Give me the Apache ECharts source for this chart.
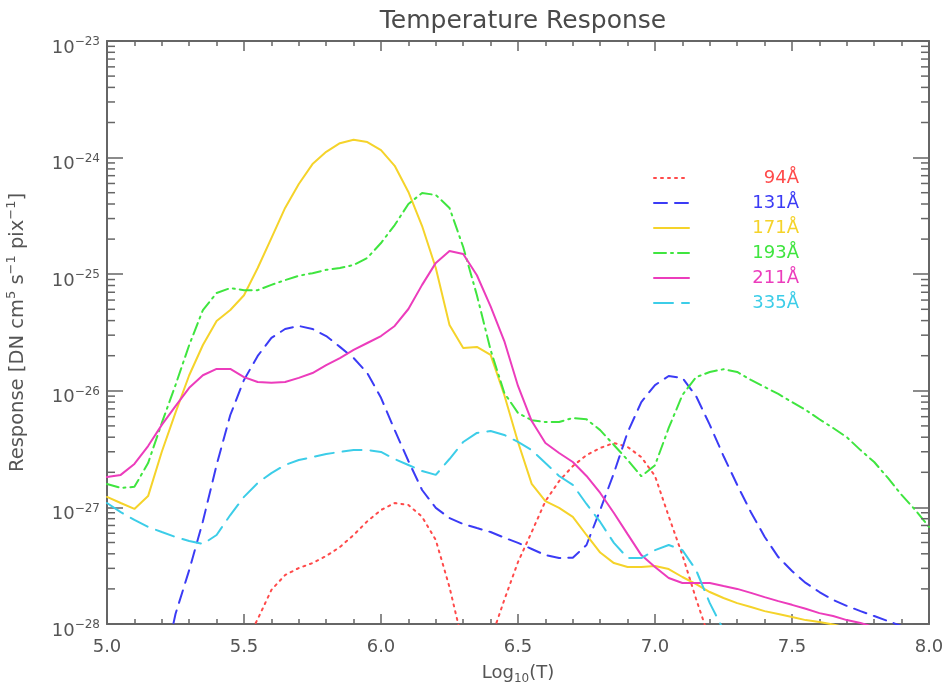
<!DOCTYPE html>
<html><head><meta charset="utf-8">
<script src="https://cdn.jsdelivr.net/npm/echarts@6/dist/echarts.min.js"></script>
<style>html,body{margin:0;padding:0;background:#fff}#c{width:949px;height:689px}</style>
</head><body><div id="c"></div>
<script>
const logT = [5.00,5.05,5.10,5.15,5.20,5.25,5.30,5.35,5.40,5.45,5.50,5.55,5.60,5.65,5.70,5.75,5.80,5.85,5.90,5.95,
  6.00,6.05,6.10,6.15,6.20,6.25,6.30,6.35,6.40,6.45,6.50,6.55,6.60,6.65,6.70,6.75,6.80,6.85,6.90,6.95,
  7.00,7.05,7.10,7.15,7.20,7.25,7.30,7.35,7.40,7.45,7.50,7.55,7.60,7.65,7.70,7.75,7.80,7.85,7.90,7.95,8.00];

const resp94 = [1e-31,2e-31,5e-31,1.2e-30,3e-30,7e-30,1.4e-29,2.4e-29,3.6e-29,5e-29,
  6.6e-29,1.1e-28,1.96e-28,2.63e-28,3.02e-28,3.33e-28,3.83e-28,4.57e-28,5.8e-28,7.6e-28,
  9.5e-28,1.09e-27,1.05e-27,8.3e-28,5.25e-28,2.07e-28,6.6e-29,2e-29,7.3e-29,1.61e-28,
  3.4e-28,6.15e-28,1.13e-27,1.68e-27,2.26e-27,2.81e-27,3.23e-27,3.57e-27,3.3e-27,2.7e-27,
  1.86e-27,8.4e-28,3.9e-28,1.64e-28,7.3e-29,3e-29,1.2e-29,5e-30,2e-30,8e-31,
  3e-31,1.2e-31,5e-32,2e-32,1e-32,5e-33,2e-33,1e-33,5e-34,2e-34,1e-34];

const resp131 = [1e-31,4e-31,2e-30,8e-30,3.5e-29,1.22e-28,2.9e-28,7.6e-28,2.31e-27,6.2e-27,
  1.24e-26,1.99e-26,2.84e-26,3.39e-26,3.6e-26,3.39e-26,2.95e-26,2.38e-26,1.91e-26,1.42e-26,
  8.7e-27,4.6e-27,2.5e-27,1.41e-27,9.9e-28,8.1e-28,7.2e-28,6.65e-28,6.15e-28,5.5e-28,
  4.96e-28,4.4e-28,3.9e-28,3.68e-28,3.7e-28,4.76e-28,9.5e-28,1.97e-27,4.4e-27,8.0e-27,
  1.12e-26,1.34e-26,1.29e-26,9.0e-27,5.1e-27,2.76e-27,1.56e-27,9.1e-28,5.6e-28,3.75e-28,
  2.85e-28,2.25e-28,1.88e-28,1.61e-28,1.43e-28,1.29e-28,1.17e-28,1.06e-28,9.6e-29,8.8e-29,8e-29];

const resp171 = [1.23e-27,1.09e-27,9.7e-28,1.25e-27,3.0e-27,6.5e-27,1.36e-26,2.47e-26,3.97e-26,4.93e-26,
  6.6e-26,1.13e-25,2.04e-25,3.7e-25,5.94e-25,8.8e-25,1.12e-24,1.33e-24,1.42e-24,1.36e-24,
  1.16e-24,8.5e-25,5.07e-25,2.59e-25,1.13e-25,3.66e-26,2.33e-26,2.38e-26,2.03e-26,9.2e-27,
  3.64e-27,1.59e-27,1.13e-27,9.9e-28,8.3e-28,5.8e-28,4.1e-28,3.33e-28,3.08e-28,3.08e-28,
  3.14e-28,2.96e-28,2.53e-28,2.2e-28,1.88e-28,1.67e-28,1.51e-28,1.4e-28,1.29e-28,1.22e-28,
  1.15e-28,1.08e-28,1.04e-28,9.9e-29,9.3e-29,8.7e-29,8.2e-29,7.7e-29,7.2e-29,6.8e-29,6.4e-29];

const resp193 = [1.59e-27,1.47e-27,1.5e-27,2.4e-27,5.3e-27,1.12e-26,2.47e-26,4.93e-26,6.9e-26,7.6e-26,
  7.3e-26,7.3e-26,8.1e-26,8.9e-26,9.7e-26,1.02e-25,1.09e-25,1.13e-25,1.2e-25,1.38e-25,
  1.85e-25,2.64e-25,4.0e-25,4.97e-25,4.78e-25,3.7e-25,1.71e-25,6.6e-26,2.24e-26,9.6e-27,
  6.45e-27,5.6e-27,5.4e-27,5.4e-27,5.85e-27,5.7e-27,4.6e-27,3.43e-27,2.55e-27,1.85e-27,
  2.3e-27,4.8e-27,9.2e-27,1.31e-26,1.45e-26,1.53e-26,1.45e-26,1.24e-26,1.08e-26,9.4e-27,
  8.0e-27,6.85e-27,5.7e-27,4.8e-27,4.0e-27,3.1e-27,2.45e-27,1.79e-27,1.28e-27,9.5e-28,6.8e-28];

const resp211 = [1.82e-27,1.9e-27,2.36e-27,3.36e-27,5.1e-27,7.4e-27,1.06e-26,1.36e-26,1.54e-26,1.54e-26,
  1.31e-26,1.19e-26,1.17e-26,1.19e-26,1.29e-26,1.42e-26,1.66e-26,1.91e-26,2.24e-26,2.57e-26,
  2.95e-26,3.6e-26,5.03e-26,8.1e-26,1.25e-25,1.58e-25,1.49e-25,9.8e-26,5.3e-26,2.67e-26,
  1.1e-26,5.5e-27,3.57e-27,2.93e-27,2.45e-27,1.86e-27,1.33e-27,8.95e-28,5.9e-28,3.9e-28,
  3.08e-28,2.48e-28,2.25e-28,2.25e-28,2.25e-28,2.12e-28,2.0e-28,1.85e-28,1.7e-28,1.57e-28,
  1.46e-28,1.35e-28,1.24e-28,1.17e-28,1.08e-28,1.02e-28,9.4e-29,8.7e-29,8.0e-29,7.4e-29,6.8e-29];

const resp335 = [1.09e-27,9.1e-28,7.8e-28,6.8e-28,6.15e-28,5.57e-28,5.15e-28,4.85e-28,5.8e-28,8.6e-28,
  1.23e-27,1.62e-27,1.97e-27,2.31e-27,2.55e-27,2.7e-27,2.87e-27,2.99e-27,3.1e-27,3.1e-27,
  2.99e-27,2.6e-27,2.31e-27,2.05e-27,1.9e-27,2.6e-27,3.64e-27,4.35e-27,4.52e-27,4.18e-27,
  3.64e-27,3.1e-27,2.4e-27,1.86e-27,1.56e-27,1.07e-27,7.5e-28,4.96e-28,3.68e-28,3.68e-28,
  4.3e-28,4.76e-28,4.3e-28,2.9e-28,1.51e-28,8.9e-29,5e-29,2.5e-29,1.2e-29,6e-30,
  3e-30,1.5e-30,7e-31,3.5e-31,1.7e-31,8e-32,4e-32,2e-32,1e-32,5e-33,2.5e-33];

const channelNames = ['94Å','131Å','171Å','193Å','211Å','335Å'];
const channelData = [resp94, resp131, resp171, resp193, resp211, resp335];
const channelColors = ['#ff4a4a','#3b3bf5','#f5d32a','#3fe53f','#ec3cbc','#3ccde8'];
const channelDash = [[2,5],[13,8],'solid',[12,5,2,5],'solid',[19,9]];

const xTickMin = 5.0, xTickMax = 8.0, xTickStep = 0.5;
// y axis drawn in log10 space: decades from 1e-28 to 1e-23
const yExpMin = -28, yExpMax = -23, yExpStep = 1;
const minorMantissas = [2,3,4,5,6,7,8,9];
const minorDecades = [-28,-27,-26,-25,-24];

const FONT = 'DejaVu Sans';
const GRAY = '#666';
const TXT = '#555';

const minorVals = [];
minorDecades.forEach(d => minorMantissas.forEach(m => minorVals.push([xTickMin, d + Math.log10(m)])));

const chart = echarts.init(document.getElementById('c'), null, {renderer:'canvas'});

const lineSeries = channelNames.map((n, i) => ({
  name: n, type: 'line', symbol: 'none', smooth: false, clip: true,
  xAxisIndex: 0, yAxisIndex: 0,
  lineStyle: {color: channelColors[i], width: 2, type: channelDash[i], cap: 'round'},
  itemStyle: {color: channelColors[i]},
  data: logT.map((x, k) => [x, Math.log10(channelData[i][k])]),
  z: 3
}));

const tickSeries = {
  type: 'custom', xAxisIndex: 0, yAxisIndex: 0, silent: true, clip: false, z: 5,
  data: minorVals, encode: {x: 0, y: 1},
  renderItem: (params, api) => {
    const v = api.value(1);
    const pl = api.coord([xTickMin, v]);
    const pr = api.coord([xTickMax, v]);
    return {type: 'group', children: [
      {type: 'line', shape: {x1: pl[0], y1: pl[1], x2: pl[0] + 8, y2: pl[1]}, style: {stroke: GRAY, lineWidth: 1.5}},
      {type: 'line', shape: {x1: pr[0] - 8, y1: pr[1], x2: pr[0], y2: pr[1]}, style: {stroke: GRAY, lineWidth: 1.5}}
    ]};
  }
};

const xCommon = {
  type: 'value', min: xTickMin, max: xTickMax, interval: xTickStep,
  axisLine: {show: true, onZero: false, lineStyle: {color: GRAY, width: 2}},
  axisTick: {show: true, inside: true, length: 10, lineStyle: {color: GRAY, width: 1.5}},
  minorTick: {show: true, splitNumber: 5, length: 5, lineStyle: {color: GRAY, width: 1.5}},
  splitLine: {show: false}, minorSplitLine: {show: false}
};
const yCommon = {
  type: 'value', min: yExpMin, max: yExpMax, interval: yExpStep,
  axisLine: {show: true, onZero: false, lineStyle: {color: GRAY, width: 2}},
  axisTick: {show: true, inside: true, length: 16, lineStyle: {color: GRAY, width: 1.5}},
  splitLine: {show: false}
};

chart.setOption({
  animation: false,
  backgroundColor: '#fff',
  title: {text: 'Temperature Response', left: 518, textAlign: 'center', top: 4,
    textStyle: {fontFamily: FONT, fontSize: 25, fontWeight: 'normal', color: '#4a4a4a'}},
  grid: {left: 107, right: 20, top: 41, bottom: 65, containLabel: false, outerBoundsMode: 'none'},
  legend: {
    orient: 'vertical', left: 648, top: 164, itemWidth: 35, itemHeight: 14, itemGap: 7,
    itemStyle: {color: 'rgba(0,0,0,0)', borderWidth: 0, opacity: 0},
    data: channelNames.map((n, i) => ({name: n, textStyle: {color: channelColors[i]}})),
    formatter: n => '{t|' + n + '}',
    textStyle: {fontFamily: FONT, fontSize: 18,
      rich: {t: {width: 105, align: 'right', fontSize: 18, lineHeight: 20, fontFamily: FONT}}}
  },
  xAxis: [
    Object.assign({}, xCommon, {position: 'bottom',
      axisLabel: {margin: 14, fontSize: 18, fontFamily: FONT, color: TXT, formatter: v => v.toFixed(1)},
      name: '{n|Log}{d|10}{n|(T)}', nameLocation: 'middle', nameGap: 37, nameMoveOverlap: false,
      nameTextStyle: {rich: {
        n: {fontFamily: FONT, fontSize: 18, color: TXT, lineHeight: 24},
        d: {fontFamily: FONT, fontSize: 12, color: TXT, lineHeight: 12, verticalAlign: 'bottom'}
      }}}),
    Object.assign({}, xCommon, {position: 'top', axisLabel: {show: false}})
  ],
  yAxis: [
    Object.assign({}, yCommon, {position: 'left',
      axisLabel: {margin: 7, padding: [14, 0, 0, 0], formatter: v => {
        const e = Math.round(v);
        return '{b|10}{s|' + (e < 0 ? '\u2212' : '') + Math.abs(e) + '}';
      }, rich: {
        b: {fontFamily: FONT, fontSize: 18, color: TXT, lineHeight: 24},
        s: {fontFamily: FONT, fontSize: 12, color: TXT, lineHeight: 12, verticalAlign: 'top'}
      }},
      name: '{n|Response [DN cm}{s|5}{n| s}{s|\u22121}{n| pix}{s|\u22121}{n|]}',
      nameLocation: 'middle', nameGap: 76, nameMoveOverlap: false, nameRotate: 90,
      nameTextStyle: {rich: {
        n: {fontFamily: FONT, fontSize: 19.5, color: TXT, lineHeight: 26},
        s: {fontFamily: FONT, fontSize: 13, color: TXT, lineHeight: 13, verticalAlign: 'top'}
      }}}),
    Object.assign({}, yCommon, {position: 'right', axisLabel: {show: false}})
  ],
  series: lineSeries.concat([tickSeries])
});
</script></body></html>
